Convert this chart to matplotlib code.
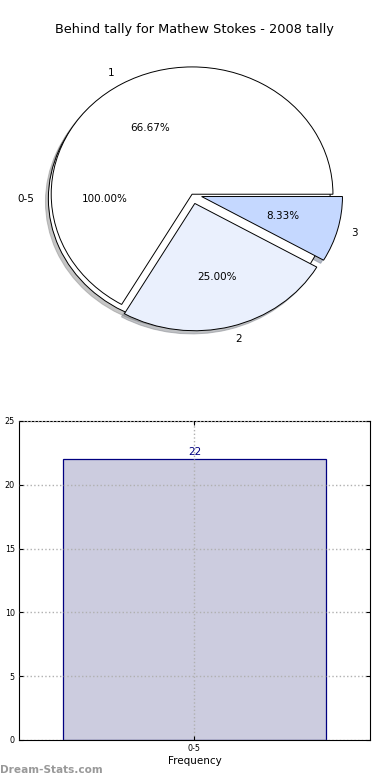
import matplotlib
matplotlib.use('Agg')
import matplotlib.pyplot as plt

# data
outer_labels = ['0-5']
outer_values = [12]
inner_labels = ['1', '2', '3']
inner_values = [8, 3, 1]
inner_colors = ['white', '#eaf0fd', '#c5d8ff']
bar_labels = ['0-5']
bar_values = [22]

fig = plt.figure(figsize=(3.9, 7.8), dpi=100)

# pie chart
ax1 = fig.add_axes([0.041, 0.547, 0.903, 0.408])
pct = lambda p: '%.2f%%' % p
shadow = dict(ox=-0.015, oy=-0.018, shade=0.45)
ax1.pie(outer_values, labels=outer_labels, colors=['white'], autopct=pct,
        shadow=shadow, center=(-0.02, -0.035), labeldistance=1.1,
        wedgeprops=dict(edgecolor='black', linewidth=0.7),
        textprops=dict(fontsize=7.5))
ax1.pie(inner_values, labels=inner_labels, colors=inner_colors, autopct=pct,
        explode=[0, 0.075, 0.07], shadow=shadow, labeldistance=1.1,
        wedgeprops=dict(edgecolor='black', linewidth=0.7),
        textprops=dict(fontsize=7.5))
ax1.set_aspect('auto')
ax1.set_xlim(-1.25, 1.25)
ax1.set_ylim(-1.25, 1.25)
fig.text(0.499, 1 - 30 / 780, 'Behind tally for Mathew Stokes - 2008 tally',
         ha='center', va='center', fontsize=9.3)

# bar chart
ax2 = fig.add_axes([0.0487, 0.0513, 0.9, 0.409])
x = list(range(len(bar_values)))
bars = ax2.bar(x, bar_values, width=0.75, color='#ccccdf', edgecolor='navy',
               linewidth=0.9, zorder=2)
for xi, v in zip(x, bar_values):
    ax2.text(xi, v + 0.2, str(v), ha='center', va='bottom', color='navy',
             fontsize=7.5, zorder=3)
ax2.set_xlim(-0.5, 0.5)
ax2.set_ylim(0, 25)
ax2.set_xticks(x)
ax2.set_xticklabels(bar_labels)
ax2.set_yticks([0, 5, 10, 15, 20, 25])
ax2.tick_params(direction='in', labelsize=5.8, top=True, right=True,
                length=3, pad=3)
ax2.grid(True, linestyle=':', color='#b0b0b0', linewidth=1, zorder=3)
ax2.set_axisbelow(False)
ax2.set_xlabel('Frequency', fontsize=7.5, labelpad=2)
ax2.set_ylabel('Goals Behind Tally', fontsize=7)
ax2.yaxis.set_label_coords(-0.065, 0.5)

fig.text(0.0, 1 - 770 / 780, 'Dream-Stats.com', ha='left', va='center',
         fontsize=7.6, color='#999999', fontweight='bold')

fig.savefig('out.png', dpi=100)
